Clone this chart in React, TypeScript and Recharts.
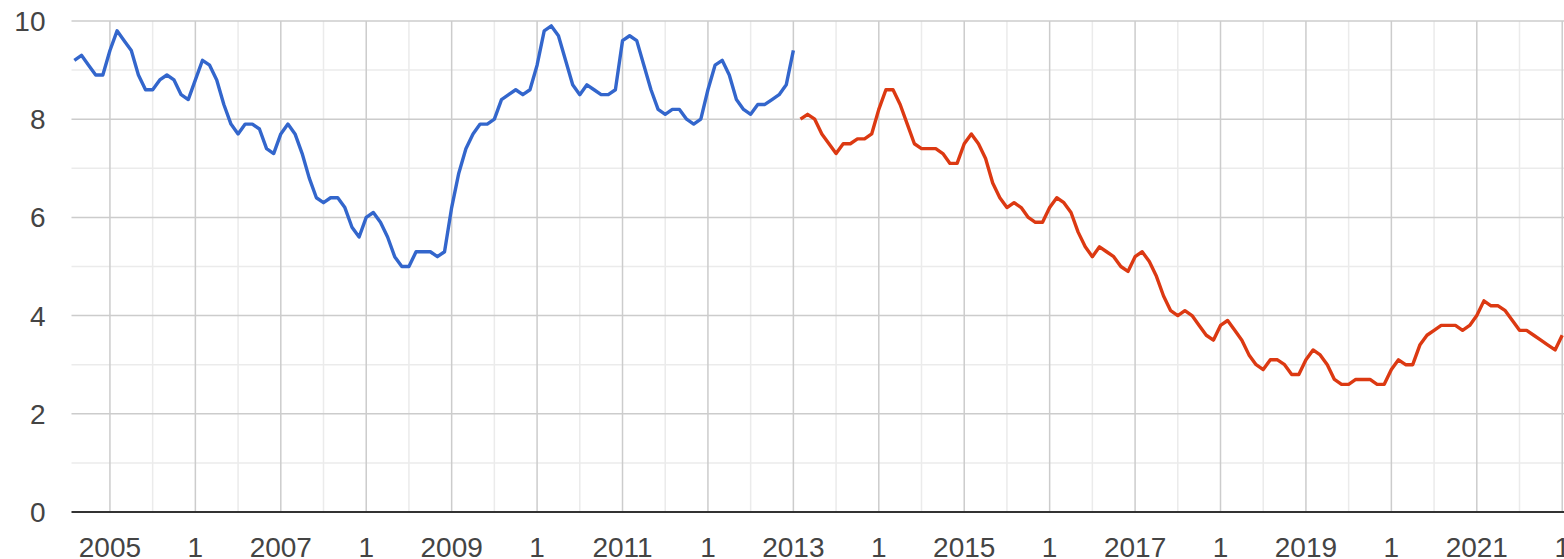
import React from 'react';
import { LineChart, Line, XAxis, YAxis, ReferenceLine } from 'recharts';

// Months are counted from January 2005 (0 = Jan 2005).
const BLUE_START_MONTH = -5; // Aug 2004
const blueValues = [
  9.2, 9.3, 9.1, 8.9, 8.9,
  9.4, 9.8, 9.6, 9.4, 8.9, 8.6, 8.6, 8.8, 8.9, 8.8, 8.5, 8.4,
  8.8, 9.2, 9.1, 8.8, 8.3, 7.9, 7.7, 7.9, 7.9, 7.8, 7.4, 7.3,
  7.7, 7.9, 7.7, 7.3, 6.8, 6.4, 6.3, 6.4, 6.4, 6.2, 5.8, 5.6,
  6.0, 6.1, 5.9, 5.6, 5.2, 5.0, 5.0, 5.3, 5.3, 5.3, 5.2, 5.3,
  6.2, 6.9, 7.4, 7.7, 7.9, 7.9, 8.0, 8.4, 8.5, 8.6, 8.5, 8.6,
  9.1, 9.8, 9.9, 9.7, 9.2, 8.7, 8.5, 8.7, 8.6, 8.5, 8.5, 8.6,
  9.6, 9.7, 9.6, 9.1, 8.6, 8.2, 8.1, 8.2, 8.2, 8.0, 7.9, 8.0,
  8.6, 9.1, 9.2, 8.9, 8.4, 8.2, 8.1, 8.3, 8.3, 8.4, 8.5, 8.7,
  9.4,
];

const RED_START_MONTH = 97; // Feb 2013
const redValues = [
  8.0, 8.1, 8.0, 7.7, 7.5, 7.3, 7.5, 7.5, 7.6, 7.6, 7.7,
  8.2, 8.6, 8.6, 8.3, 7.9, 7.5, 7.4, 7.4, 7.4, 7.3, 7.1, 7.1,
  7.5, 7.7, 7.5, 7.2, 6.7, 6.4, 6.2, 6.3, 6.2, 6.0, 5.9, 5.9,
  6.2, 6.4, 6.3, 6.1, 5.7, 5.4, 5.2, 5.4, 5.3, 5.2, 5.0, 4.9,
  5.2, 5.3, 5.1, 4.8, 4.4, 4.1, 4.0, 4.1, 4.0, 3.8, 3.6, 3.5,
  3.8, 3.9, 3.7, 3.5, 3.2, 3.0, 2.9, 3.1, 3.1, 3.0, 2.8, 2.8,
  3.1, 3.3, 3.2, 3.0, 2.7, 2.6, 2.6, 2.7, 2.7, 2.7, 2.6, 2.6,
  2.9, 3.1, 3.0, 3.0, 3.4, 3.6, 3.7, 3.8, 3.8, 3.8, 3.7, 3.8,
  4.0, 4.3, 4.2, 4.2, 4.1, 3.9, 3.7, 3.7, 3.6, 3.5, 3.4, 3.3,
  3.6,
];

const tickYears = [2005, 2006, 2007, 2008, 2009, 2010, 2011, 2012, 2013, 2014, 2015, 2016, 2017, 2018, 2019, 2020, 2021, 2022];
const tickLabels = ['2005', '1', '2007', '1', '2009', '1', '2011', '1', '2013', '1', '2015', '1', '2017', '1', '2019', '1', '2021', '1'];
const yTicks = [0, 2, 4, 6, 8, 10];
const yMinorLines = [1, 3, 5, 7, 9];

const X_DOMAIN: [number, number] = [-5.4, 204.25];

const yearMonths = tickYears.map((y) => (y - 2005) * 12);
const halfYearMonths = tickYears.slice(0, -1).map((y) => (y - 2005) * 12 + 6);
const labelByMonth: Record<number, string> = {};
yearMonths.forEach((m, i) => {
  labelByMonth[m] = tickLabels[i];
});

const lastMonth = RED_START_MONTH + redValues.length - 1;
const data: { m: number; blue?: number | null; red?: number | null }[] = [];
for (let m = BLUE_START_MONTH; m <= lastMonth; m++) {
  const bi = m - BLUE_START_MONTH;
  const ri = m - RED_START_MONTH;
  data.push({
    m,
    blue: bi >= 0 && bi < blueValues.length ? blueValues[bi] : null,
    red: ri >= 0 && ri < redValues.length ? redValues[ri] : null,
  });
}

const FONT = '"Liberation Sans", Arial, sans-serif';
const MINOR = '#ebebeb';
const MAJOR = '#cccccc';

export default function App() {
  return (
    <div style={{ position: 'absolute', left: 0, top: 0, width: 1564, height: 559, background: '#fff' }}>
      <LineChart
        width={1564}
        height={559}
        data={data}
        margin={{ top: 21, right: 0, bottom: 0, left: 0 }}
        style={{ fontFamily: FONT }}
      >
        <XAxis
          type="number"
          dataKey="m"
          domain={X_DOMAIN}
          allowDataOverflow
          ticks={yearMonths}
          interval={0}
          tickFormatter={(v: number) => labelByMonth[v] ?? ''}
          axisLine={false}
          tickLine={false}
          tickSize={0}
          tickMargin={25}
          height={47}
          tick={{ fill: '#444444', fontSize: 28, fontFamily: FONT }}
        />
        <YAxis
          type="number"
          domain={[0, 10]}
          ticks={yTicks}
          interval={0}
          axisLine={false}
          tickLine={false}
          tickSize={0}
          tickMargin={26}
          width={71.5}
          tick={{ fill: '#444444', fontSize: 28, fontFamily: FONT }}
        />
        {halfYearMonths.map((m) => (
          <ReferenceLine key={'hx' + m} x={m} stroke={MINOR} strokeWidth={1.5} />
        ))}
        {yMinorLines.map((v) => (
          <ReferenceLine key={'my' + v} y={v} stroke={MINOR} strokeWidth={1.5} />
        ))}
        {yearMonths.map((m) => (
          <ReferenceLine key={'yx' + m} x={m} stroke={MAJOR} strokeWidth={1.5} />
        ))}
        {yTicks.filter((v) => v > 0).map((v) => (
          <ReferenceLine key={'jy' + v} y={v} stroke={MAJOR} strokeWidth={1.5} />
        ))}
        <ReferenceLine y={0} stroke="#333333" strokeWidth={2} />
        <Line
          type="linear"
          dataKey="blue"
          stroke="#3366cc"
          strokeWidth={3.4}
          strokeLinejoin="round"
          dot={false}
          activeDot={false}
          connectNulls={false}
          isAnimationActive={false}
        />
        <Line
          type="linear"
          dataKey="red"
          stroke="#dc3912"
          strokeWidth={3.4}
          strokeLinejoin="round"
          dot={false}
          activeDot={false}
          connectNulls={false}
          isAnimationActive={false}
        />
      </LineChart>
    </div>
  );
}
